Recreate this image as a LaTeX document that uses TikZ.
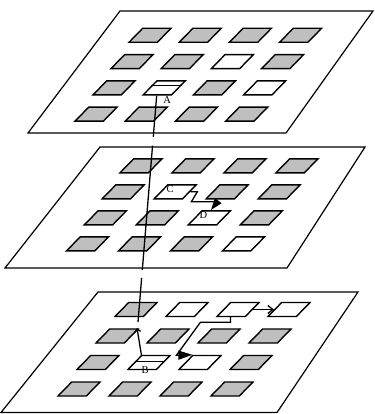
\documentclass[tikz,border=0pt]{standalone}
\usepackage{fontspec}
\setmainfont{Liberation Serif}
\usetikzlibrary{arrows.meta, positioning, shapes.geometric, calc}

\begin{document}
\begin{tikzpicture}[x=1pt, y=-1pt,
    plane/.style={draw, line width=1.2pt},
    tile/.style={draw, line width=1.4pt, fill=gray!50, trapezium,
      trapezium left angle=47, trapezium right angle=133, trapezium stretches,
      minimum width=42pt, minimum height=14pt, inner sep=1pt},
    link/.style={line width=1.3pt},
    lbl/.style={font=\fontsize{10.5}{10.5}\selectfont, inner sep=0pt},
    w123/.style={fill=white}, w132/.style={fill=white}, w134/.style={fill=white},
    w222/.style={fill=white}, w233/.style={fill=white}, w244/.style={fill=white},
    w312/.style={fill=white}, w313/.style={fill=white}, w314/.style={fill=white},
    w332/.style={fill=white}, w333/.style={fill=white}]
  \useasboundingbox (0,0) rectangle (374,414);
  \draw[plane] (120,11) -- (373,11) -- (286,133) -- (28,133) -- cycle;
  \draw[plane] (100,147) -- (365,147) -- (287,268) -- (5,268) -- cycle;
  \draw[plane] (98,292) -- (358,292) -- (277,412.5) -- (1,412.5) -- cycle;
  % plane / left / column step / row shift / top / row step
  \foreach \p/\a/\s/\h/\ty/\v in {1/142/50.2/18/28.3/26.3, 2/133/52/17.8/158.8/26, 3/128/51/19/302.5/26.5}
    \foreach \r in {1,...,4}
      \foreach \c in {1,...,4}
        \node[tile, w\p\r\c/.try] (t\p\r\c) at ({\a+8+(\c-1)*\s-(\r-1)*\h}, {\ty+7+(\r-1)*\v}) {};
  \draw[link] ($(t132.top left corner)!0.35!(t132.bottom left corner)$) -- ($(t132.top right corner)!0.35!(t132.bottom right corner)$);
  \draw[link] ($(t332.top left corner)!0.45!(t332.bottom left corner)$) -- ($(t332.top right corner)!0.45!(t332.bottom right corner)$);
  \node[lbl] (labA) at ([shift={(3,12)}]t132.center) {A};
  \node[lbl] (labC) at ([shift={(-5,-3)}]t222.center) {C};
  \node[lbl] (labD) at ([shift={(-6,-3)}]t233.center) {D};
  \node[lbl] (labB) at ([shift={(-4,8)}]t332.center) {B};
  % path down through the planes
  \coordinate (drop) at (138,322);
  \coordinate (rise) at (137,328);
  \draw[link, dash pattern=on 41.3pt off 9pt on 124.5pt off 8pt on 60pt] (t132.bottom side) -- (drop);
  \draw[link, -{Straight Barb[length=3pt,width=6pt]}] (t332.top left corner) -- (rise);
  \draw[link, -{Triangle[length=12pt,width=8pt]}] (t222.right side) -- ++(7,0) -- ++(-6,10) -- ++(26,0)
    -- ($(t233.top left corner)!0.3!(t233.top right corner)$);
  \draw[link, -{Triangle[length=14pt,width=9pt]}] (t313.bottom side) -- ++(0,5) -- ++(-30,0) -- ++(-24,33)
    -- (t333.top left corner);
  \draw[link, -{Straight Barb[length=5pt,width=8pt]}] (t313.right side) -- (t314.left side);
\end{tikzpicture}
\end{document}
